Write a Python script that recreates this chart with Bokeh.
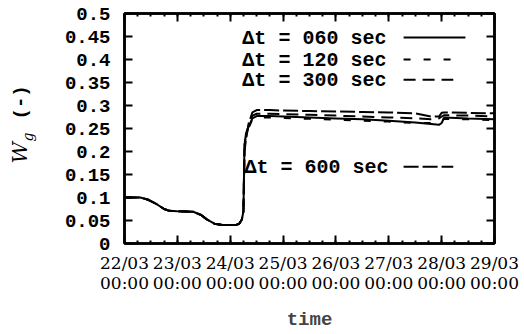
import numpy as np
import pandas as pd
from math import pi
from bokeh.plotting import figure
from bokeh.layouts import row
from bokeh.models import Range1d, FixedTicker, LinearAxis, DatetimeAxis, Label, Arrow
from bokeh.core.properties import value
from bokeh.embed import file_html
from bokeh.resources import INLINE

# ---------------- data ----------------
start = pd.Timestamp("2004-03-22 00:00")
x_tick_labels = ["22/03\n00:00", "23/03\n00:00", "24/03\n00:00", "25/03\n00:00",
                 "26/03\n00:00", "27/03\n00:00", "28/03\n00:00", "29/03\n00:00"]
y_ticks = [0.0, 0.05, 0.1, 0.15, 0.2, 0.25, 0.3, 0.35, 0.4, 0.45, 0.5]
y_tick_labels = ["0", "0.05", "0.1", "0.15", "0.2", "0.25", "0.3", "0.35", "0.4", "0.45", "0.5"]

# time in days since 22/03 00:00
days = [0.0, 0.30, 0.45, 0.60, 0.75, 0.85, 1.00, 1.30, 1.45, 1.55, 1.70, 1.85, 2.10,
        2.17, 2.22, 2.25, 2.27, 2.30, 2.35, 2.42, 2.50, 2.75, 3.00, 3.50, 4.00, 4.50,
        5.00, 5.50, 5.80, 5.95, 6.00, 6.05, 6.50, 7.00]
w_060 = [0.100, 0.100, 0.095, 0.086, 0.075, 0.071, 0.070, 0.069, 0.062, 0.053, 0.043,
         0.040, 0.040, 0.043, 0.052, 0.070, 0.215, 0.240, 0.255, 0.272, 0.277, 0.277,
         0.276, 0.274, 0.272, 0.270, 0.267, 0.263, 0.260, 0.258, 0.262, 0.274, 0.272, 0.270]
w_120 = [0.100, 0.100, 0.095, 0.086, 0.075, 0.071, 0.070, 0.069, 0.062, 0.053, 0.043,
         0.040, 0.040, 0.043, 0.052, 0.070, 0.210, 0.235, 0.252, 0.270, 0.274, 0.274,
         0.273, 0.271, 0.269, 0.267, 0.265, 0.262, 0.262, 0.262, 0.268, 0.271, 0.270, 0.268]
w_300 = [0.100, 0.100, 0.095, 0.086, 0.075, 0.071, 0.070, 0.069, 0.062, 0.053, 0.043,
         0.040, 0.040, 0.043, 0.052, 0.070, 0.205, 0.232, 0.258, 0.278, 0.282, 0.282,
         0.281, 0.280, 0.278, 0.276, 0.274, 0.272, 0.270, 0.272, 0.276, 0.279, 0.278, 0.276]
w_600 = [0.100, 0.100, 0.095, 0.086, 0.075, 0.071, 0.070, 0.069, 0.062, 0.053, 0.043,
         0.040, 0.040, 0.043, 0.052, 0.070, 0.200, 0.228, 0.262, 0.285, 0.290, 0.290,
         0.289, 0.288, 0.287, 0.286, 0.285, 0.283, 0.276, 0.276, 0.284, 0.285, 0.284, 0.283]

series = [("060", w_060, "solid"), ("120", w_120, "7 13"),
          ("300", w_300, "12 7"), ("600", w_600, "15 4")]

# ---------------- helpers ----------------
def ms(ts):
    return float(ts.value // 10**6)

def dms(d):
    return ms(start + pd.Timedelta(days=d))

x_dt = (start + pd.to_timedelta(np.array(days), unit="D")).to_numpy()
major = [dms(k) for k in range(8)]
minor = [ms(start + pd.Timedelta(hours=6 * k)) for k in range(29)]

SERIF = "DejaVu Serif"
MONO = "Liberation Mono"
TITLE_W = 40
H = 334
FRAME_TOP, FRAME_BOTTOM = 13, 243

p = figure(width=524 - TITLE_W, height=H, x_axis_type="datetime", output_backend="svg",
           toolbar_location=None,
           x_range=Range1d(major[0], major[-1]), y_range=Range1d(0, 0.5),
           min_border_left=124 - TITLE_W, min_border_right=30, min_border_top=FRAME_TOP,
           min_border_bottom=H - FRAME_BOTTOM)
p.grid.visible = False
p.outline_line_color = "black"
p.outline_line_width = 2.5
p.background_fill_color = "white"
p.border_fill_color = "white"

xt = FixedTicker(ticks=major, minor_ticks=minor)
yt = FixedTicker(ticks=y_ticks)

def style_axis(ax):
    ax.axis_line_color = "black"
    ax.axis_line_width = 2.5
    ax.major_tick_line_color = "black"
    ax.major_tick_line_width = 2
    ax.minor_tick_line_color = "black"
    ax.minor_tick_line_width = 2
    ax.major_tick_in = 8
    ax.major_tick_out = 0
    ax.minor_tick_in = 3
    ax.minor_tick_out = 0

xa = p.xaxis[0]
xa.ticker = xt
xa.major_label_overrides = {major[i]: x_tick_labels[i] for i in range(8)}
xa.major_label_text_font = SERIF
xa.major_label_text_font_size = "17px"
xa.major_label_text_line_height = 1.0
xa.major_label_text_color = "black"
xa.major_label_standoff = 9
xa.axis_label = "time"
xa.axis_label_text_font = MONO
xa.axis_label_text_font_style = "bold"
xa.axis_label_text_font_size = "19px"
xa.axis_label_text_line_height = 0.9
xa.axis_label_standoff = 13
style_axis(xa)

ya = p.yaxis[0]
ya.ticker = yt
ya.major_label_overrides = {y_ticks[i]: y_tick_labels[i] for i in range(len(y_ticks))}
ya.major_label_text_font = MONO
ya.major_label_text_font_style = "bold"
ya.major_label_text_font_size = "19px"
ya.major_label_text_color = "black"
ya.major_label_standoff = 14
style_axis(ya)
ya.minor_tick_line_color = None

top = DatetimeAxis(ticker=xt, major_label_overrides={m: "" for m in major})
style_axis(top)
p.add_layout(top, "above")
right = LinearAxis(ticker=yt, major_label_overrides={v: "" for v in y_ticks})
style_axis(right)
right.minor_tick_line_color = None
p.add_layout(right, "right")

for name, vals, dash in series:
    p.line(x_dt, vals, line_color="black", line_width=2, line_dash=dash)

# ---------------- legend (text then key line on the right) ----------------
leg_rows = [(0.446, 2.23), (0.398, 2.23), (0.354, 2.23), (0.165, 2.27)]
for (name, vals, dash), (yv, xd) in zip(series, leg_rows):
    p.add_layout(Label(x=dms(xd), y=yv, text=f"\u0394t = {name} sec", text_font=MONO,
                       text_font_style="bold",
                       text_font_size="20px", text_baseline="middle", text_color="black"))
    xe = 6.45 if name == "060" else 6.22
    p.add_layout(Arrow(end=None, x_start=dms(5.28), y_start=yv + 0.002, x_end=dms(xe),
                       y_end=yv + 0.002, line_color="black", line_width=2, line_dash=dash))

# ---------------- y axis title (narrow panel on the left; its frame is aligned with
# the main frame, so the y range is given in page pixels measured from the bottom) ------
t = figure(width=TITLE_W, height=H, output_backend="svg", toolbar_location=None,
           x_range=Range1d(0, TITLE_W), y_range=Range1d(H - FRAME_BOTTOM, H - FRAME_TOP),
           min_border=0, outline_line_color=None)
t.axis.visible = False
t.grid.visible = False
t.text(x=[31], y=[H - 163], text=["W"], angle=pi / 2, text_font=value(SERIF),
       text_font_style="italic", text_font_size="21px", text_color="black")
t.text(x=[35], y=[H - 141], text=["g"], angle=pi / 2, text_font=value(SERIF),
       text_font_style="italic", text_font_size="14px", text_color="black")
t.text(x=[31], y=[H - 119], text=["(-)"], angle=pi / 2, text_font=value(MONO),
       text_font_style="bold", text_font_size="19px", text_color="black")

layout = row(t, p)
open("out.html", "w").write(file_html(layout, INLINE))
